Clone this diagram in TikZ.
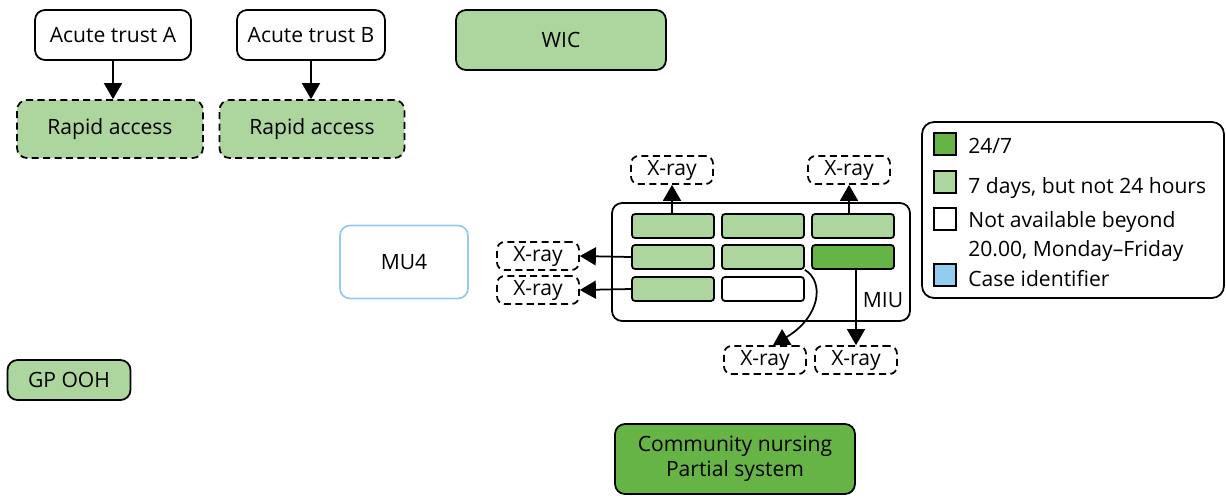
\documentclass[tikz,border=0pt]{standalone}
\usepackage{fontspec}
\setmainfont{Open Sans}
\usetikzlibrary{arrows.meta}
\definecolor{darkgreen}{HTML}{66B446}
\definecolor{lightgreen}{HTML}{ADD69E}
\definecolor{caseblue}{HTML}{92CDEF}

\tikzset{
  box/.style={draw,rounded corners=0.2cm,line width=1pt,align=center,inner sep=0pt},
  dbox/.style={box,dash pattern=on 4pt off 2.5pt},
  cell/.style={draw,rounded corners=0.06cm,line width=1pt,minimum width=1.64cm,minimum height=0.48cm,inner sep=0pt},
  xray/.style={dbox,rounded corners=0.15cm,minimum width=1.64cm,minimum height=0.56cm},
  key/.style={draw,line width=0.8pt,minimum size=0.44cm,inner sep=0pt},
  arr/.style={line width=1pt,-{Triangle[length=0.32cm,width=0.36cm]}},
}

\begin{document}
\begin{tikzpicture}[x=0.02cm,y=-0.02cm,font=\fontsize{12}{14}\selectfont]
\useasboundingbox (0,0) rectangle (1226,495);
% trusts and rapid access
\node[box,minimum width=3.12cm,minimum height=1cm] (acuteA) at (113,35) {Acute trust A};
\node[box,minimum width=2.96cm,minimum height=1cm] (acuteB) at (311,35) {Acute trust B};
\node[dbox,fill=lightgreen,minimum width=3.72cm,minimum height=1.16cm] (rapidA) at (110,129) {Rapid access};
\node[dbox,fill=lightgreen,minimum width=3.7cm,minimum height=1.16cm] (rapidB) at (312,129) {Rapid access};
\draw[arr] (acuteA.south) -- (acuteA.south |- rapidA.north);
\draw[arr] (acuteB.south) -- (acuteB.south |- rapidB.north);
% other services
\node[box,fill=lightgreen,minimum width=4.2cm,minimum height=1.2cm] (wic) at (561,40) {WIC};
\node[box,draw=caseblue,minimum width=2.56cm,minimum height=1.46cm] (mu4) at (404,262) {MU4};
\node[box,fill=lightgreen,minimum width=2.46cm,minimum height=0.8cm] (gpooh) at (69,380) {GP OOH};
\node[box,fill=darkgreen,minimum width=4.8cm,minimum height=1.4cm] (community) at (735,459) {Community nursing\\Partial system};
% MIU
\node[box,minimum width=5.96cm,minimum height=2.36cm] (miu) at (761,262) {};
\node (miutext) at (883,300) {MIU};
\node[cell,fill=lightgreen] (c11) at (673,226) {};
\node[cell,fill=lightgreen] (c12) at (763,226) {};
\node[cell,fill=lightgreen] (c13) at (853,226) {};
\node[cell,fill=lightgreen] (c21) at (673,257) {};
\node[cell,fill=lightgreen] (c22) at (763,257) {};
\node[cell,fill=darkgreen] (c23) at (853,257) {};
\node[cell,fill=lightgreen] (c31) at (673,289) {};
\node[cell,fill=white] (c32) at (763,289) {};
% X-ray
\node[xray] (xtop1) at (672,170) {X-ray};
\node[xray] (xtop2) at (849,170) {X-ray};
\node[xray] (xleft1) at (538,256) {X-ray};
\node[xray] (xleft2) at (538,290) {X-ray};
\node[xray] (xbot1) at (765,360) {X-ray};
\node[xray] (xbot2) at (856,360) {X-ray};
\draw[arr] (xtop1.south |- c11.north) -- (xtop1.south);
\draw[arr] (xtop2.south |- c13.north) -- (xtop2.south);
\draw[arr] (c21.west) -- (xleft1.east);
\draw[arr] (c31.west) -- (xleft2.east);
\draw[arr] (xbot2.north |- c23.south) -- (xbot2.north);
\draw[arr] (c22.south east) .. controls +(20,12) and +(47,-28) .. ([xshift=0.16cm]xbot1.north);
% legend
\node[box,rounded corners=0.24cm,minimum width=6.04cm,minimum height=3.52cm] (legend) at (1073,210) {};
\node[key,fill=darkgreen] (k1) at (945,144) {};
\node[key,fill=lightgreen] (k2) at (945,182) {};
\node[key,fill=white] (k3) at (945,219) {};
\node[key,fill=caseblue] (k4) at (945,275) {};
\node[anchor=base west,inner sep=0pt] (t1) at (968,153) {24/7};
\node[anchor=base west,inner sep=0pt] (t2) at (968,193) {7 days, but not 24 hours};
\node[anchor=north west,inner sep=0pt,align=left,font=\fontsize{12}{16.6}\selectfont] (t3) at (968,211) {Not available beyond\\20.00, Monday--Friday};
\node[anchor=base west,inner sep=0pt] (t4) at (968,286) {Case identifier};
\end{tikzpicture}
\end{document}
